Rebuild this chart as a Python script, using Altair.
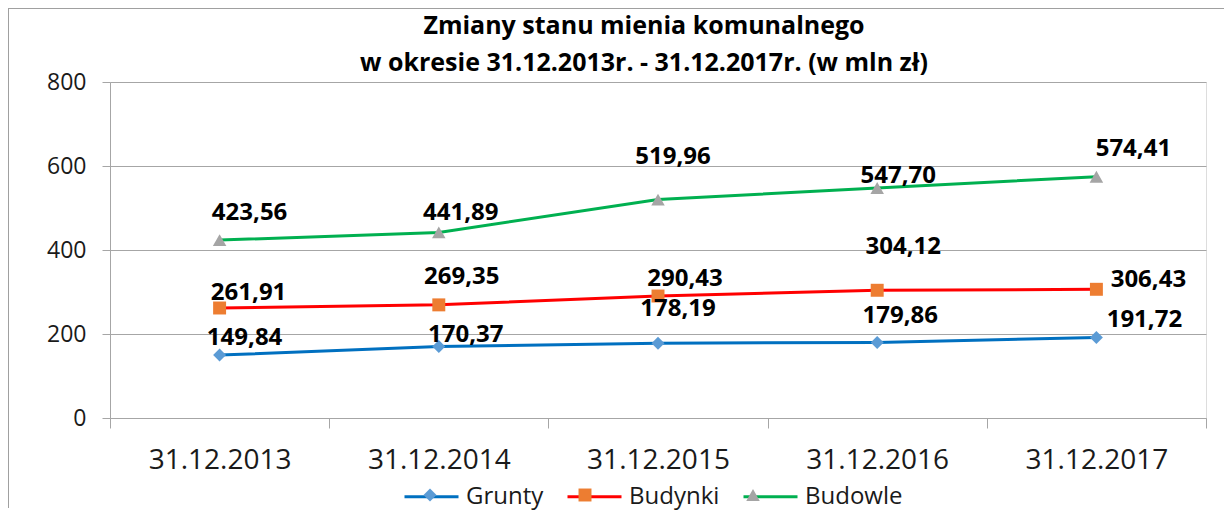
import altair as alt
import pandas as pd

# ---- data ----
dates = ["31.12.2013", "31.12.2014", "31.12.2015", "31.12.2016", "31.12.2017"]
series_names = ["Grunty", "Budynki", "Budowle"]
grunty = [149.84, 170.37, 178.19, 179.86, 191.72]
budynki = [261.91, 269.35, 290.43, 304.12, 306.43]
budowle = [423.56, 441.89, 519.96, 547.70, 574.41]
y_ticks = [0, 200, 400, 600, 800]
title_lines = ["Zmiany stanu mienia komunalnego",
               "w okresie 31.12.2013r. - 31.12.2017r. (w mln zł)"]

# ---- styles ----
line_colors = ["#0070C0", "#FF0000", "#00B050"]
marker_colors = ["#5B9BD5", "#ED7D31", "#A5A5A5"]
marker_paths = [
    "M0,-0.24L0.24,0L0,0.24L-0.24,0Z",
    "M-0.24,-0.24H0.24V0.24H-0.24Z",
    "M0,-0.22L0.25,0.22L-0.25,0.22Z",
]
# label offsets (pixels) per series, in date order
label_dx = [[25, 27, 20, 23, 48], [29, 23, 27, 26, 52], [30, 22, 15, 21, 37]]
label_dy = [[-17, -11, -34, -26, -17], [-15, -28, -17, -43, -9], [-27, -19, -43, -12, -28]]

FONT = "Open Sans"
GRAY = "#a6a6a6"
SYM = 2916  # 54px wide legend symbol


def legend_props(**extra):
    props = dict(title=None, orient="none", legendX=293, legendY=386,
                 direction="horizontal", symbolSize=SYM, labelFont=FONT,
                 labelFontSize=24, labelColor="#1a1a1a", labelOffset=6,
                 columnPadding=17)
    props.update(extra)
    return alt.Legend(**props)


rows = []
for s, vals in zip(series_names, [grunty, budynki, budowle]):
    for d, v in zip(dates, vals):
        rows.append({"date": d, "value": v, "series": s, "series_m": s,
                     "label": f"{v:.2f}".replace(".", ",")})
df = pd.DataFrame(rows)

x_enc = alt.X("date:N", sort=dates,
              scale=alt.Scale(type="band", domain=dates, paddingInner=0, paddingOuter=0),
              axis=alt.Axis(title=None, labelAngle=0, tickBand="extent", tickSize=10,
                            tickColor=GRAY, domainColor=GRAY, labelFont=FONT,
                            labelFontSize=28, labelColor="#1a1a1a", labelPadding=18,
                            grid=False))
y_enc = alt.Y("value:Q", scale=alt.Scale(domain=[0, 800], nice=False),
              axis=alt.Axis(title=None, values=y_ticks, grid=True, gridColor=GRAY,
                            tickColor=GRAY, domainColor=GRAY, tickSize=8,
                            labelPadding=16, labelFont=FONT, labelFontSize=23,
                            labelColor="#1a1a1a"))

base = alt.Chart(df)

# outer chart frame (top and left edges visible in the reference)
frame_src = alt.Chart(pd.DataFrame({"k": [0]}))
frame_top = frame_src.mark_rule(color="#a0a0a0", strokeWidth=1).encode(
    x=alt.value(-102), x2=alt.value(1114), y=alt.value(-73.5))
frame_left = frame_src.mark_rule(color="#a0a0a0", strokeWidth=1).encode(
    x=alt.value(-101.5), y=alt.value(-74), y2=alt.value(426))

# line legend (line part of the legend symbols)
lines = base.mark_line(strokeWidth=3).encode(
    x=x_enc, y=y_enc,
    stroke=alt.Stroke("series:N", sort=series_names,
                      scale=alt.Scale(range=line_colors),
                      legend=legend_props(symbolType="M-1,0H1", symbolStrokeWidth=3,
                                          zindex=0)),
)

# marker legend (marker part of the legend symbols), drawn over the line legend
marker_legend = legend_props(symbolStrokeWidth=0, labelOpacity=0, zindex=1)
markers = base.mark_point(filled=True, size=SYM, opacity=1, strokeWidth=0).encode(
    x=x_enc, y=y_enc,
    fill=alt.Fill("series_m:N",
                  scale=alt.Scale(domain=series_names, range=marker_colors),
                  legend=marker_legend),
    shape=alt.Shape("series_m:N",
                    scale=alt.Scale(domain=series_names, range=marker_paths),
                    legend=marker_legend),
)

layers = [frame_top, frame_left, lines, markers]
for si, s in enumerate(series_names):
    for di, d in enumerate(dates):
        layers.append(
            base.transform_filter(
                (alt.datum.series == s) & (alt.datum.date == d)
            ).mark_text(font=FONT, fontSize=24, fontWeight="bold", color="#000000",
                        align="center", baseline="middle",
                        dx=label_dx[si][di], dy=label_dy[si][di]).encode(
                x=x_enc, y=y_enc, text="label:N")
        )

chart = alt.layer(*layers).properties(
    width=1096, height=336,
    title=alt.TitleParams(text=title_lines, font=FONT, fontSize=25, fontWeight="bold",
                          color="#000000", anchor="middle", dx=-14, dy=98, offset=10,
                          lineHeight=37, baseline="alphabetic"),
    autosize=alt.AutoSizeParams(type="none"),
    padding={"left": 102, "top": 74, "right": 18, "bottom": 92},
).configure_view(stroke=None).configure(background="white")

chart.save("out.html", embed_options={"renderer": "svg", "actions": False})
